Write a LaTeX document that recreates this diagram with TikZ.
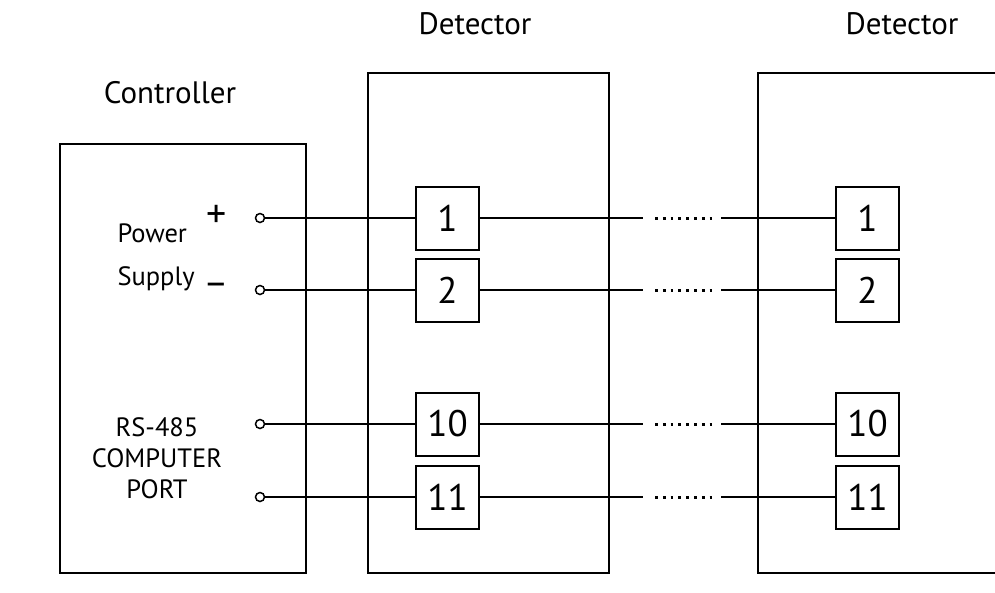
\documentclass[tikz,border=0pt]{standalone}
\usepackage{fontspec}
\setmainfont{PT Sans}

\tikzset{
  unitbox/.style={draw, line width=2pt, inner sep=0pt},
  term/.style={draw, line width=2pt, minimum width=63pt, minimum height=63pt,
    inner sep=0pt, font=\fontsize{37}{40}\selectfont},
  port/.style={circle, draw, line width=1.5pt, minimum size=9pt, inner sep=0pt},
  wire/.style={line width=2pt},
  dotgap/.style={line width=3pt, dash pattern=on 2.8pt off 5pt},
  lbl/.style={font=\fontsize{31}{36}\selectfont},
  sublbl/.style={font=\fontsize{26.5}{31}\selectfont},
  sign/.style={inner sep=0pt},
}

\begin{document}
\begin{tikzpicture}[x=1pt,y=-1pt]
\path[use as bounding box, clip] (0,0) rectangle (995,592);

% units
\node[unitbox, minimum width=246pt, minimum height=429pt] (ctrl) at (183,358.5) {};
\node[unitbox, minimum width=241pt, minimum height=500pt] (detA) at (488.5,323) {};
\node[unitbox, minimum width=241pt, minimum height=500pt] (detB) at (878.5,323) {};

% titles
\node[lbl, anchor=base] (ctrlname) at (170,103) {Controller};
\node[lbl, anchor=base] (detAname) at (475,34) {Detector};
\node[lbl, anchor=base] (detBname) at (902,34) {Detector};

% controller labels
\node[sublbl, anchor=base west] (pwr) at (114,242) {Power};
\node[sublbl, anchor=base west] (sup) at (114,285) {Supply};
\node[sign, font=\fontsize{40}{42}\selectfont] (plus) at (217,216) {+};
\node[sign, font=\fontsize{38}{40}\selectfont] (minus) at (216,289) {\char"2013};
\node[sublbl, align=center] (rs) at (157,458) {RS-485\\COMPUTER\\PORT};

% terminals and wires
\foreach \n/\yy in {1/218,2/290,10/424,11/497}{
  \node[port] (p\n) at (260,\yy) {};
  \node[term] (a\n) at (447.5,\yy) {\n};
  \node[term] (b\n) at (867.5,\yy) {\n};
  \coordinate (gl\n) at (643,\yy);
  \coordinate (gr\n) at (721,\yy);
  \draw[wire] (p\n) -- (a\n);
  \draw[wire] (a\n) -- (gl\n);
  \draw[dotgap] ([xshift=12pt]gl\n) -- ([xshift=-6pt]gr\n);
  \draw[wire] (gr\n) -- (b\n);
}
\end{tikzpicture}
\end{document}
